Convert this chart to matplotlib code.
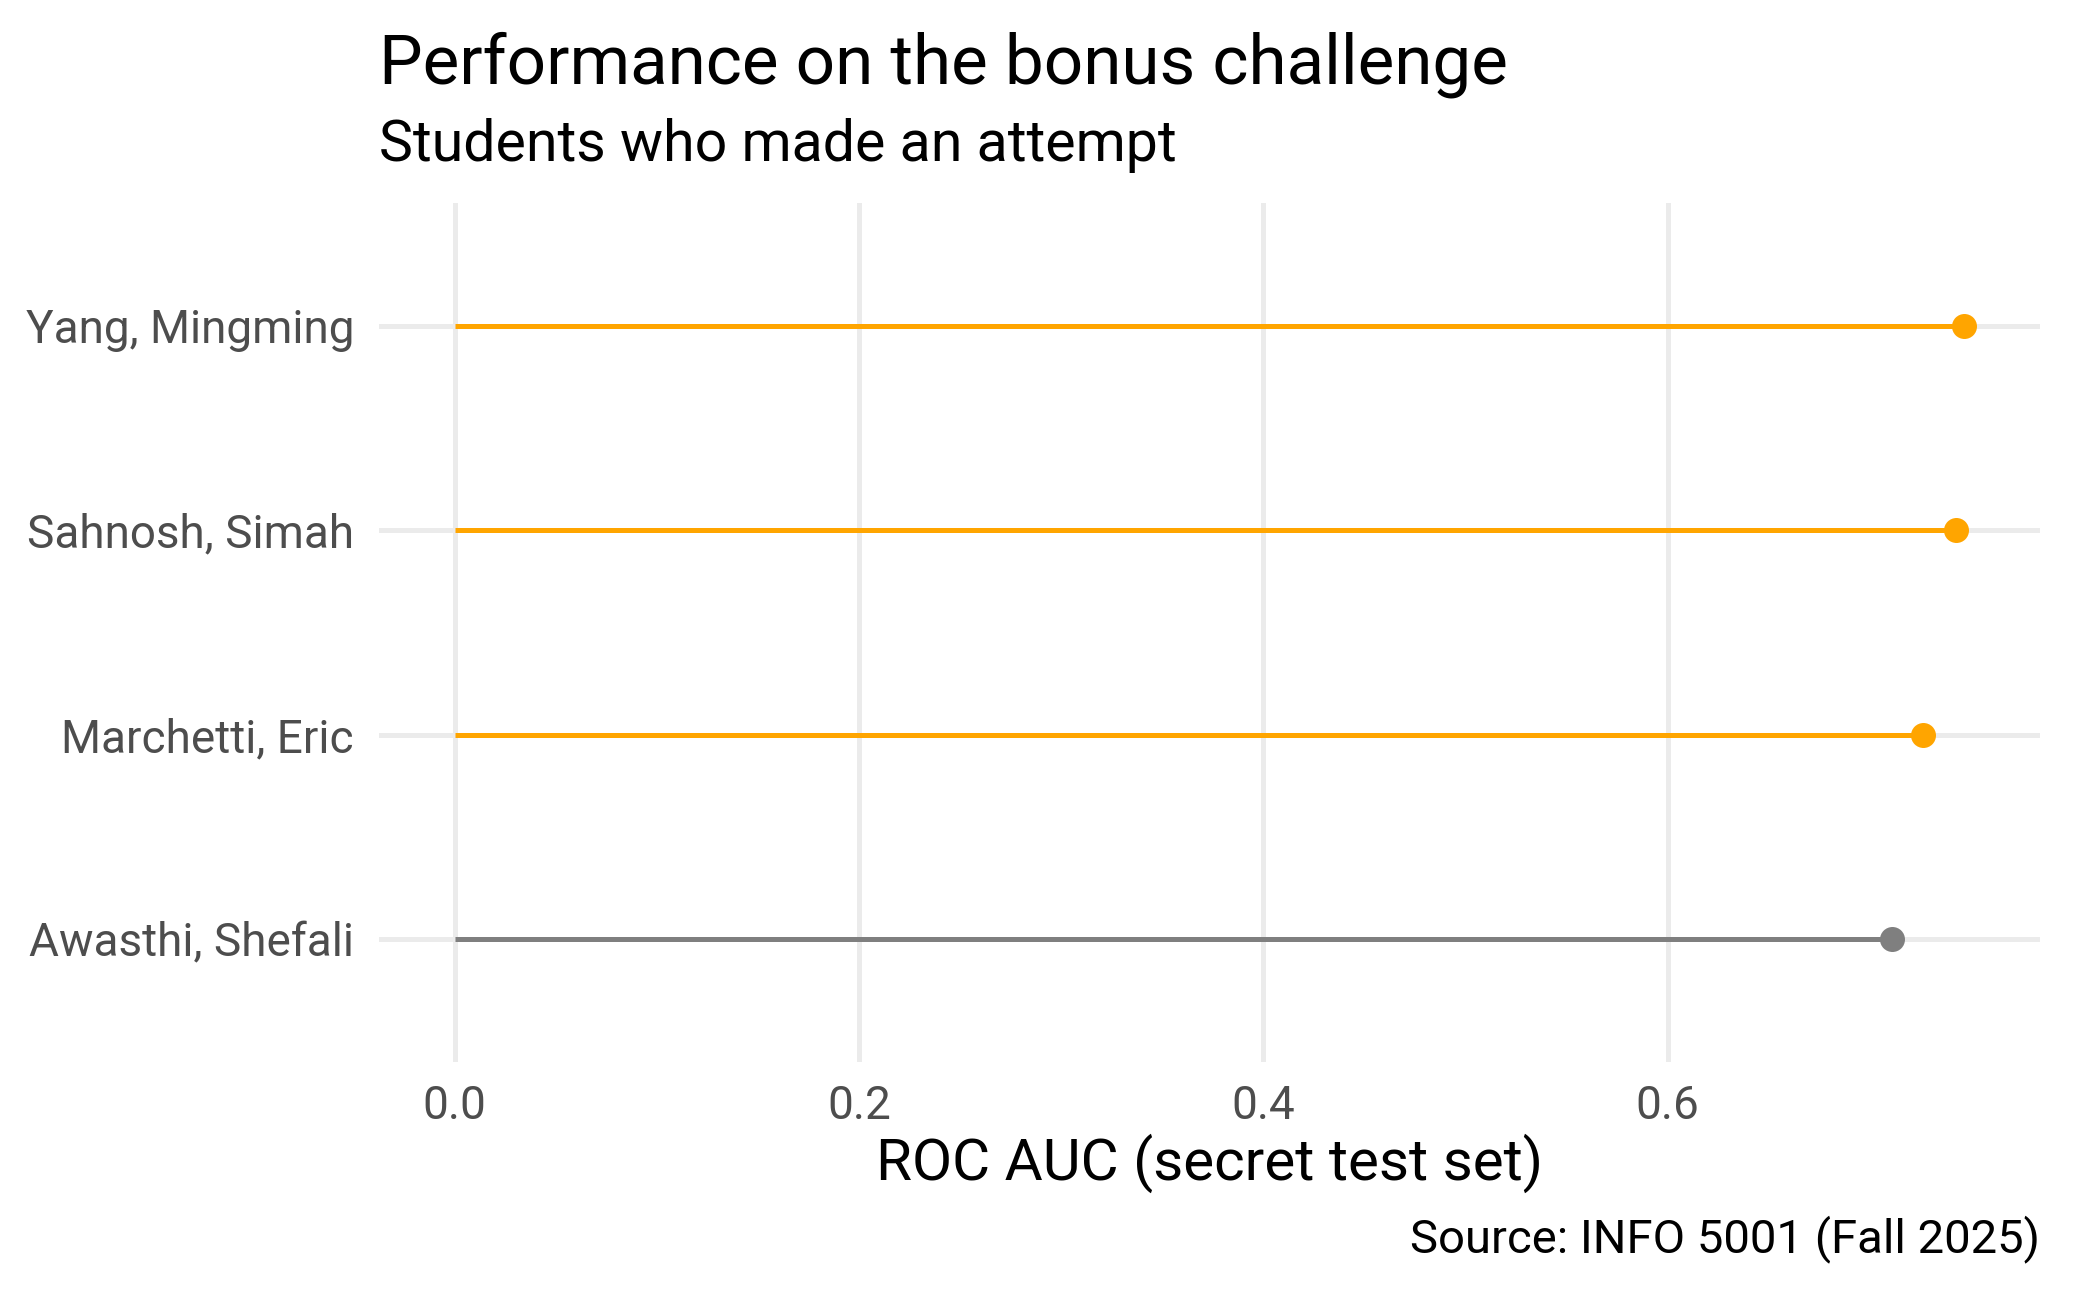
import matplotlib
matplotlib.use("Agg")
import matplotlib.pyplot as plt

plt.rcParams['font.family'] = ['Roboto', 'DejaVu Sans']

students = ["Awasthi, Shefali", "Marchetti, Eric", "Sahnosh, Simah", "Yang, Mingming"]
auc = [0.7112, 0.7266, 0.7425, 0.7469]
colors = ["#7F7F7F", "#FFA500", "#FFA500", "#FFA500"]
xticks = [0.0, 0.2, 0.4, 0.6]
xticklabels = ["0.0", "0.2", "0.4", "0.6"]

W, H = 2100, 1297
fig = plt.figure(figsize=(W / 200, H / 200), dpi=200)
fig.patch.set_facecolor("white")
L, R, T, B = 379, 2040, 203, 1062
ax = fig.add_axes([L / W, 1 - B / H, (R - L) / W, (B - T) / H])

ypos = list(range(1, len(students) + 1))
for y, v, c in zip(ypos, auc, colors):
    ax.plot([0, v], [y, y], color=c, lw=1.8, solid_capstyle="butt", zorder=3)
    ax.plot([v], [y], "o", color=c, ms=9, mew=0, zorder=4)

span = max(auc)
ax.set_xlim(-0.05 * span, span * 1.05)
ax.set_ylim(0.4, len(students) + 0.6)
ax.set_xticks(xticks)
ax.set_xticklabels(xticklabels)
ax.set_yticks(ypos)
ax.set_yticklabels(students)
ax.grid(True, color="#EBEBEB", lw=1.8, zorder=0)
ax.set_axisbelow(True)
for s in ax.spines.values():
    s.set_visible(False)
ax.tick_params(axis="both", length=0, labelsize=16.5, labelcolor="#4D4D4D")
ax.tick_params(axis="x", pad=8)
ax.tick_params(axis="y", pad=9)

fig.text((L + R) / 2 / W, 1 - 1180 / H, "ROC AUC (secret test set)", fontsize=21,
         ha="center", va="baseline", color="black")
fig.text(L / W, 1 - 83 / H, "Performance on the bonus challenge", fontsize=24.9,
         ha="left", va="baseline", color="black")
fig.text(L / W, 1 - 161 / H, "Students who made an attempt", fontsize=20.6,
         ha="left", va="baseline", color="black")
fig.text(R / W, 1 - 1252 / H, "Source: INFO 5001 (Fall 2025)", fontsize=17,
         ha="right", va="baseline", color="black")

fig.savefig("out.png", dpi=200, facecolor="white")
